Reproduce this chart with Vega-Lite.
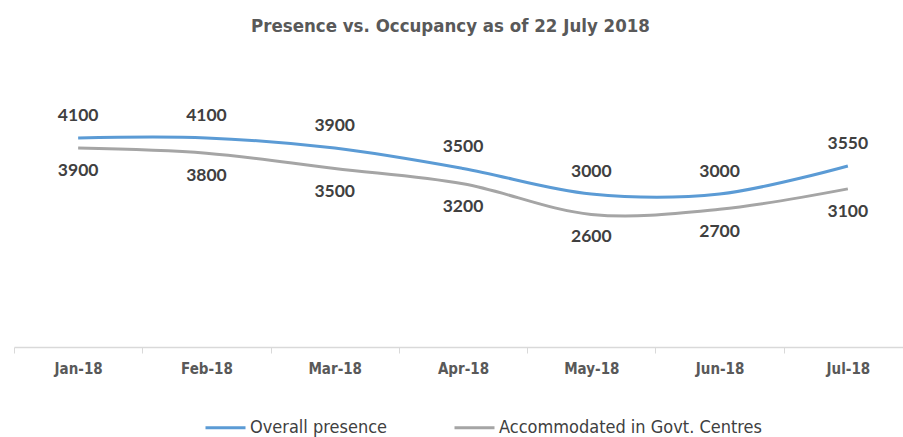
{
  "$schema": "https://vega.github.io/schema/vega-lite/v6.json",
  "autosize": "none",
  "width": 889,
  "height": 255,
  "padding": {"left": 14, "top": 92, "right": 0, "bottom": 90},
  "background": "white",
  "config": {"view": {"stroke": null}},
  "title": {
    "text": "Presence vs. Occupancy  as of 22 July 2018",
    "font": "DejaVu Sans Condensed, Open Sans, sans-serif",
    "fontSize": 18.5,
    "fontWeight": "bold",
    "color": "#595959",
    "anchor": "middle",
    "dx": -8,
    "offset": 57
  },
  "data": {
    "values": [
      {"month": "Jan-18", "series": "Overall presence", "value": 4100},
      {"month": "Feb-18", "series": "Overall presence", "value": 4100},
      {"month": "Mar-18", "series": "Overall presence", "value": 3900},
      {"month": "Apr-18", "series": "Overall presence", "value": 3500},
      {"month": "May-18", "series": "Overall presence", "value": 3000},
      {"month": "Jun-18", "series": "Overall presence", "value": 3000},
      {"month": "Jul-18", "series": "Overall presence", "value": 3550},
      {"month": "Jan-18", "series": "Accommodated in Govt. Centres", "value": 3900},
      {"month": "Feb-18", "series": "Accommodated in Govt. Centres", "value": 3800},
      {"month": "Mar-18", "series": "Accommodated in Govt. Centres", "value": 3500},
      {"month": "Apr-18", "series": "Accommodated in Govt. Centres", "value": 3200},
      {"month": "May-18", "series": "Accommodated in Govt. Centres", "value": 2600},
      {"month": "Jun-18", "series": "Accommodated in Govt. Centres", "value": 2700},
      {"month": "Jul-18", "series": "Accommodated in Govt. Centres", "value": 3100}
    ]
  },
  "encoding": {
    "x": {
      "field": "month",
      "type": "ordinal",
      "sort": null,
      "scale": {"paddingInner": 0, "paddingOuter": 0, "range": [0, 898]},
      "axis": {
        "title": null,
        "labelAngle": 0,
        "labelFont": "DejaVu Sans Condensed, Open Sans, sans-serif",
        "labelFontSize": 15,
        "labelFontWeight": "bold",
        "labelColor": "#595959",
        "domainColor": "#d9d9d9",
        "domainWidth": 1.5,
        "tickColor": "#d9d9d9",
        "tickBand": "extent",
        "tickSize": 6,
        "labelPadding": 8,
        "grid": false
      }
    },
    "y": {
      "field": "value",
      "type": "quantitative",
      "scale": {"domain": [0, 5000]},
      "axis": null
    }
  },
  "layer": [
    {
      "mark": {"type": "line", "interpolate": "catmull-rom", "strokeWidth": 3},
      "encoding": {
        "color": {
          "field": "series",
          "type": "nominal",
          "scale": {
            "domain": ["Overall presence", "Accommodated in Govt. Centres"],
            "range": ["#5b9bd5", "#a5a5a5"]
          },
          "legend": {
            "title": null,
            "orient": "none",
            "direction": "horizontal",
            "legendX": 190,
            "legendY": 314,
            "symbolType": "stroke",
            "symbolSize": 1600,
            "symbolStrokeWidth": 3,
            "labelFont": "DejaVu Sans Condensed, Open Sans, sans-serif",
            "labelFontSize": 18,
            "labelColor": "#404040",
            "labelOffset": 3,
            "columnPadding": 60,
            "labelLimit": 400
          }
        }
      }
    },
    {
      "transform": [{"filter": "datum.series === 'Overall presence'"}],
      "mark": {"type": "text", "dy": -22, "font": "Lato", "fontSize": 17.5, "fontWeight": "bold", "color": "#404040"},
      "encoding": {"text": {"field": "value", "type": "quantitative", "format": "d"}}
    },
    {
      "transform": [{"filter": "datum.series === 'Accommodated in Govt. Centres'"}],
      "mark": {"type": "text", "dy": 23, "font": "Lato", "fontSize": 17.5, "fontWeight": "bold", "color": "#404040"},
      "encoding": {"text": {"field": "value", "type": "quantitative", "format": "d"}}
    }
  ]
}
